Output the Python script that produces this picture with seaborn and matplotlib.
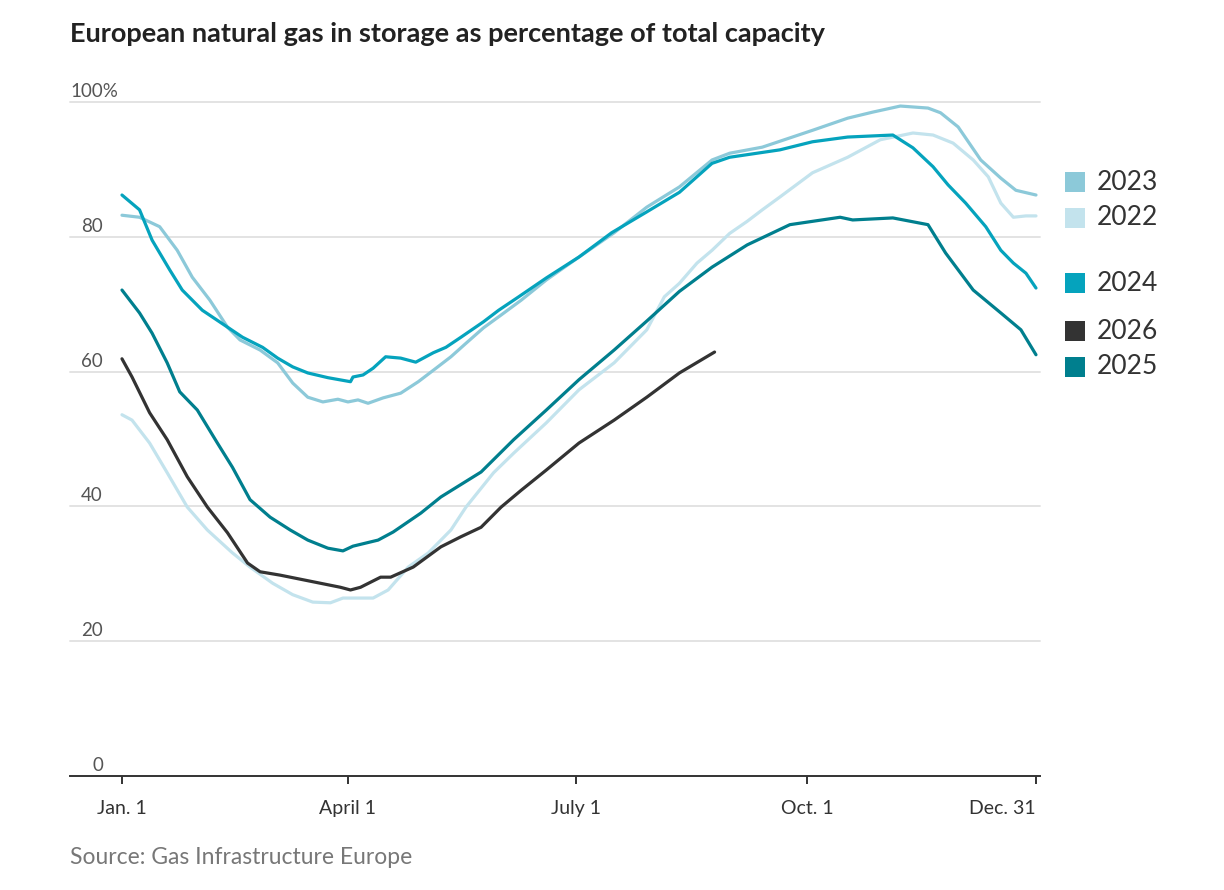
import pandas as pd
import matplotlib.pyplot as plt
import seaborn as sns

sns.set_theme(style="white")
plt.rcParams['font.family'] = ['Lato', 'DejaVu Sans']

# day of year / percent full
days_2022 = [1, 5, 12, 19, 27, 35, 45, 52, 61, 69, 77, 84, 89, 96, 101, 107, 115, 123, 132, 138,
             149, 157, 170, 183, 197, 210, 217, 223, 230, 236, 243, 250, 256, 263, 276, 290, 303,
             316, 324, 332, 340, 346, 351, 356, 361, 365]
pct_2022 = [53.6, 52.8, 49.4, 45.0, 39.9, 36.5, 33.1, 31.0, 28.6, 26.9, 25.8, 25.7, 26.4, 26.4, 26.4,
            27.6, 31.0, 33.1, 36.5, 39.9, 45.0, 47.9, 52.4, 57.3, 61.3, 66.2, 71.1, 73.1, 76.1, 78.0,
            80.5, 82.3, 84.0, 85.9, 89.5, 91.8, 94.4, 95.4, 95.1, 93.9, 91.4, 88.9, 85.0, 82.9, 83.1, 83.1]

days_2023 = [1, 8, 16, 23, 29, 36, 43, 48, 56, 63, 69, 75, 81, 87, 91, 95, 99, 105, 112, 119, 125,
             132, 138, 145, 152, 160, 170, 183, 197, 210, 223, 236, 243, 256, 276, 290, 300, 311,
             322, 327, 334, 343, 351, 357, 365]
pct_2023 = [83.2, 82.9, 81.5, 78.0, 74.0, 70.6, 66.6, 64.7, 63.2, 61.3, 58.3, 56.2, 55.5, 55.9, 55.5,
            55.8, 55.3, 56.1, 56.8, 58.5, 60.2, 62.2, 64.2, 66.5, 68.4, 70.6, 73.6, 77.0, 80.6, 84.4,
            87.4, 91.4, 92.4, 93.3, 95.8, 97.6, 98.5, 99.4, 99.1, 98.4, 96.3, 91.4, 88.7, 86.9, 86.2]

days_2024 = [1, 8, 13, 20, 25, 33, 43, 49, 57, 63, 69, 75, 83, 92, 93, 97, 101, 106, 112, 118, 125,
             130, 136, 145, 151, 159, 170, 183, 196, 210, 223, 236, 243, 263, 276, 290, 308, 316,
             324, 330, 337, 345, 351, 356, 361, 365]
pct_2024 = [86.2, 84.0, 79.5, 75.1, 72.1, 69.1, 66.6, 65.1, 63.6, 62.0, 60.7, 59.8, 59.1, 58.5, 59.2,
            59.5, 60.5, 62.2, 62.0, 61.4, 62.8, 63.6, 65.1, 67.4, 69.1, 71.1, 73.9, 77.0, 80.6, 83.7,
            86.6, 90.9, 91.8, 92.9, 94.1, 94.8, 95.1, 93.2, 90.4, 87.7, 85.0, 81.5, 78.0, 76.1, 74.6, 72.4]

days_2025 = [1, 8, 13, 19, 24, 31, 39, 45, 52, 60, 68, 75, 83, 89, 93, 103, 109, 120, 128, 144, 157,
             170, 183, 197, 210, 223, 236, 250, 267, 287, 292, 308, 322, 329, 340, 351, 359, 365]
pct_2025 = [72.1, 68.7, 65.7, 61.3, 57.0, 54.3, 49.4, 45.8, 41.0, 38.4, 36.5, 35.0, 33.8, 33.4, 34.1,
            35.0, 36.2, 39.0, 41.4, 45.1, 49.9, 54.3, 58.8, 63.2, 67.5, 71.9, 75.5, 78.8, 81.8, 82.9,
            82.5, 82.8, 81.8, 77.6, 72.1, 68.7, 66.2, 62.5]

days_2026 = [1, 5, 12, 19, 27, 35, 43, 51, 56, 64, 72, 80, 88, 92, 96, 104, 108, 117, 128, 136, 144,
             152, 160, 170, 183, 197, 210, 223, 237]
pct_2026 = [61.9, 59.2, 53.9, 49.9, 44.4, 39.9, 36.1, 31.6, 30.3, 29.8, 29.2, 28.6, 28.0, 27.6, 28.0,
            29.5, 29.5, 31.0, 34.0, 35.5, 36.9, 39.9, 42.4, 45.4, 49.4, 52.8, 56.2, 59.8, 62.9]

years = ['2022', '2023', '2024', '2025', '2026']
colors = {'2022': '#c3e3ed', '2023': '#8cc9d9', '2024': '#05a3bd', '2025': '#007f8e', '2026': '#333333'}

tick_days = [1, 91, 182, 274, 365]
tick_labels = ['Jan. 1', 'April 1', 'July 1', 'Oct. 1', 'Dec. 31']
y_ticks = [0, 20, 40, 60, 80, 100]

frames = []
for yr, d, p in [('2022', days_2022, pct_2022), ('2023', days_2023, pct_2023),
                 ('2024', days_2024, pct_2024), ('2025', days_2025, pct_2025),
                 ('2026', days_2026, pct_2026)]:
    frames.append(pd.DataFrame({'day': d, 'pct': p, 'year': yr}))
df = pd.concat(frames, ignore_index=True)

fig = plt.figure(figsize=(12.24, 8.9), dpi=100)
ax = fig.add_axes([70 / 1224, 1 - 776 / 890, 970 / 1224, (776 - 102) / 890])

sns.lineplot(data=df, x='day', y='pct', hue='year', hue_order=years, palette=colors,
             estimator=None, linewidth=2.3, legend=False, ax=ax)

ax.set_xlim(-19.7, 366.6)
ax.set_ylim(0, 100)
for s in ['top', 'right', 'left']:
    ax.spines[s].set_visible(False)
ax.spines['bottom'].set_color('#333333')
ax.spines['bottom'].set_linewidth(1.4)

# gridlines
for v in y_ticks[1:]:
    ax.axhline(v, color='#e3e3e3', linewidth=1.4, zorder=0, clip_on=False)

# y labels sit just above the gridlines
ytf = ax.get_yaxis_transform()
for v in y_ticks:
    if v == 100:
        ax.text(0, v + 0.3, '100%', transform=ytf, ha='left', va='bottom',
                fontsize=13.5, color='#555555')
    else:
        ax.text(0.034, v + 0.3, str(v), transform=ytf, ha='right', va='bottom',
                fontsize=13.5, color='#555555')
ax.set_yticks([])

ax.set_xticks(tick_days)
ax.set_xticklabels(tick_labels, fontsize=14, color='#333333')
ax.tick_params(axis='x', direction='out', length=6, width=1.4, color='#333333', pad=11, bottom=True)
xl = ax.get_xticklabels()
xl[-1].set_ha('right')
xl[-1].set_x(366)
ax.set_xlabel('')
ax.set_ylabel('')

# legend on the right
leg_y = {'2023': 88.1, '2022': 82.8, '2024': 73.1, '2026': 66.0, '2025': 60.7}
for yr, yv in leg_y.items():
    ax.scatter([1.036], [yv], transform=ytf, marker='s', s=190, color=colors[yr],
               clip_on=False, linewidths=0)
    ax.text(1.058, yv, yr, transform=ytf, ha='left', va='center', fontsize=19, color='#333333')

fig.text(70 / 1224, 1 - 34 / 890, 'European natural gas in storage as percentage of total capacity',
         ha='left', va='center', fontsize=19.5, fontweight='bold', color='#222222')
fig.text(70 / 1224, 1 - 858 / 890, 'Source: Gas Infrastructure Europe',
         ha='left', va='center', fontsize=16.5, color='#777777')

fig.savefig('out.png', dpi=100)
